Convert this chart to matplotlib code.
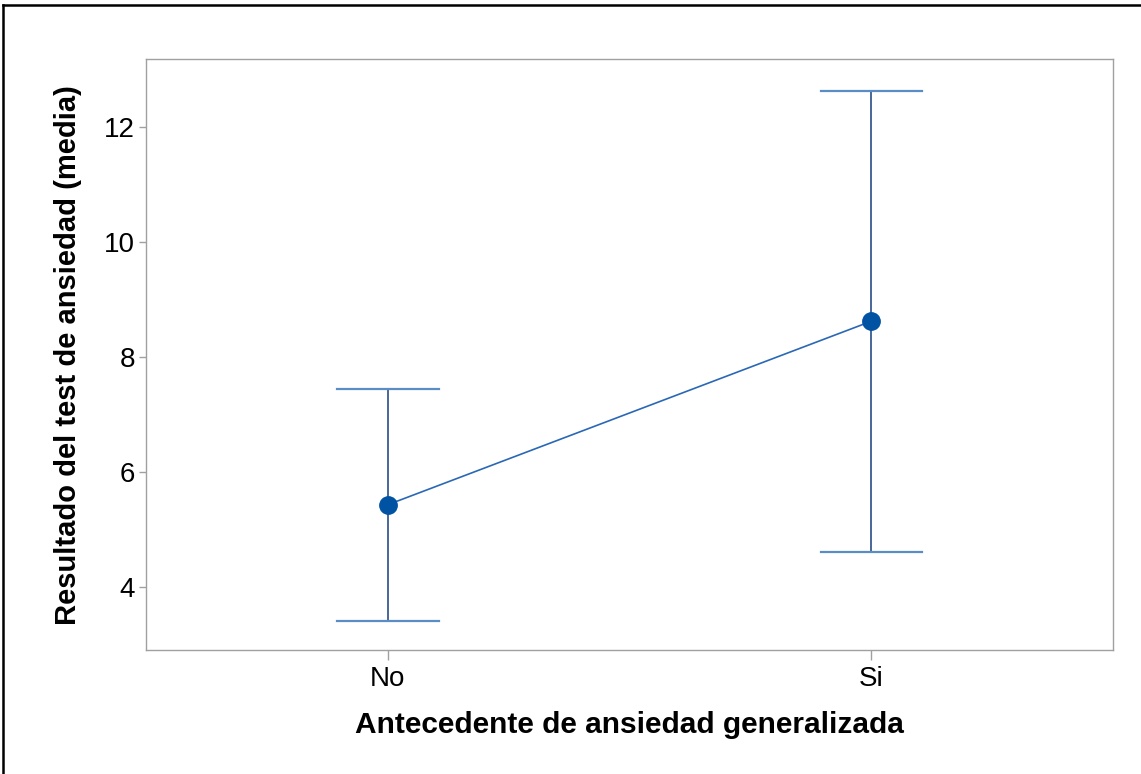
import matplotlib
matplotlib.use("Agg")
import matplotlib.pyplot as plt
from matplotlib.lines import Line2D

plt.rcParams['font.family'] = ['Liberation Sans', 'DejaVu Sans']

# Group means with interval limits
categories = ["No", "Si"]
means = [5.43, 8.62]
lower = [3.41, 4.60]
upper = [7.44, 12.62]
yticks = [4, 6, 8, 10, 12]

fig = plt.figure(figsize=(11.41, 7.74), dpi=100)
ax = fig.add_axes([0.128, 0.1596, 0.8475, 0.7642])

x = list(range(len(categories)))
cap_half = 0.105

for xi, lo, hi in zip(x, lower, upper):
    ax.plot([xi, xi], [lo, hi], color="#173f7c", lw=1.1, zorder=2)
    ax.plot([xi - cap_half, xi + cap_half], [hi, hi], color="#5a8cc6", lw=1.6, zorder=2)
    ax.plot([xi - cap_half, xi + cap_half], [lo, lo], color="#5a8cc6", lw=1.6, zorder=2)

ax.plot(x, means, color="#2a68b5", lw=1.2, zorder=3)
ax.plot(x, means, 'o', color="#0052a3", markersize=12.5, zorder=4)

ax.set_xlim(-0.5, 1.5)
ax.set_ylim(2.896, 13.18)
ax.set_xticks(x)
ax.set_xticklabels(categories)
ax.set_yticks(yticks)
ax.set_yticklabels([str(v) for v in yticks])

for s in ax.spines.values():
    s.set_color("#a0a0a0")
    s.set_linewidth(1.0)

ax.tick_params(axis='y', length=5, width=1, color="#a0a0a0", labelsize=20, pad=3)
ax.tick_params(axis='x', length=7, width=1, color="#a0a0a0", labelsize=20, pad=4)

ax.set_xlabel("Antecedente de ansiedad generalizada", fontsize=21.5, fontweight='bold', labelpad=14)
ax.set_ylabel("Resultado del test de ansiedad (media)", fontsize=21, fontweight='bold', labelpad=16)

# Figure frame along the top and left edges
fig.add_artist(Line2D([0.0024, 0.0024], [0, 0.994], transform=fig.transFigure, color="black", lw=1.8))
fig.add_artist(Line2D([0.0024, 1.0], [0.994, 0.994], transform=fig.transFigure, color="black", lw=1.8))

fig.savefig("out.png", dpi=100)
